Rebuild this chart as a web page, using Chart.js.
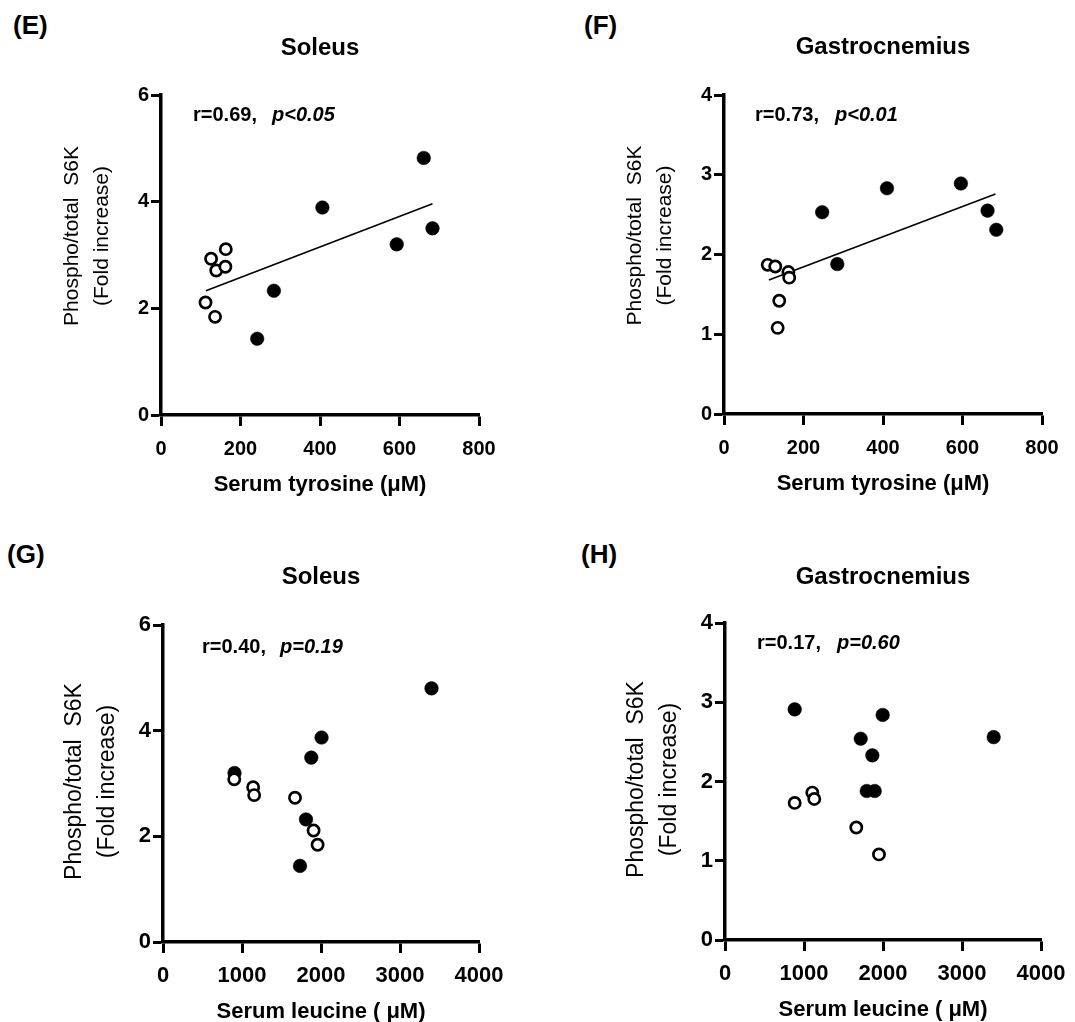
<!DOCTYPE html>
<html>
<head>
<meta charset="utf-8">
<script src="https://cdn.jsdelivr.net/npm/chart.js@4/dist/chart.umd.min.js"></script>
<style>
  html, body { margin:0; padding:0; background:#fff; width:1075px; height:1022px; overflow:hidden; position:relative; }
  .lbl { position:absolute; font:bold 26px "Liberation Sans", Arial, sans-serif; color:#000; line-height:26px; }
  canvas { position:absolute; }
</style>
</head>
<body>
<div class="lbl" style="left:13px;top:12px">(E)</div>
<div class="lbl" style="left:584px;top:12px">(F)</div>
<div class="lbl" style="left:7px;top:541px">(G)</div>
<div class="lbl" style="left:581px;top:541px">(H)</div>
<canvas id="cE"></canvas>
<canvas id="cF"></canvas>
<canvas id="cG"></canvas>
<canvas id="cH"></canvas>
<script>
// ---------------- DATA ----------------
// Panel E: Soleus vs serum tyrosine
const soleusTyrOpenX   = [112, 126, 136, 139, 162, 163];
const soleusTyrOpenY   = [2.11, 2.93, 1.84, 2.71, 2.78, 3.11];
const soleusTyrFilledX = [242, 284, 406, 593, 661, 683];
const soleusTyrFilledY = [1.43, 2.33, 3.89, 3.20, 4.82, 3.50];
const soleusTyrFitX    = [113, 683];
const soleusTyrFitY    = [2.33, 3.96];

// Panel F: Gastrocnemius vs serum tyrosine
const gastroTyrOpenX   = [110, 129, 135, 139, 162, 164];
const gastroTyrOpenY   = [1.87, 1.85, 1.08, 1.42, 1.78, 1.71];
const gastroTyrFilledX = [247, 285, 410, 596, 663, 685];
const gastroTyrFilledY = [2.53, 1.88, 2.83, 2.89, 2.55, 2.31];
const gastroTyrFitX    = [113, 683];
const gastroTyrFitY    = [1.68, 2.76];

// Panel G: Soleus vs serum leucine
const soleusLeuOpenX   = [902, 1141, 1154, 1671, 1906, 1957];
const soleusLeuOpenY   = [3.08, 2.93, 2.78, 2.73, 2.11, 1.84];
const soleusLeuFilledX = [905, 1734, 1810, 1877, 2007, 3399];
const soleusLeuFilledY = [3.20, 1.44, 2.32, 3.49, 3.87, 4.80];

// Panel H: Gastrocnemius vs serum leucine
const gastroLeuOpenX   = [882, 1105, 1130, 1662, 1949];
const gastroLeuOpenY   = [1.73, 1.86, 1.78, 1.42, 1.08];
const gastroLeuFilledX = [882, 1718, 1794, 1865, 1895, 1996, 3401];
const gastroLeuFilledY = [2.91, 2.54, 1.88, 2.33, 1.88, 2.84, 2.56];

// Texts
const panelTitles = ['Soleus', 'Gastrocnemius', 'Soleus', 'Gastrocnemius'];
const xTitles = ['Serum tyrosine (\u03BCM)', 'Serum tyrosine (\u03BCM)', 'Serum leucine ( \u03BCM)', 'Serum leucine ( \u03BCM)'];
const yTitleLines = ['Phospho/total  S6K', '(Fold increase)'];
const statR = ['r=0.69,', 'r=0.73,', 'r=0.40,', 'r=0.17,'];
const statP = ['p<0.05', 'p<0.01', 'p=0.19', 'p=0.60'];

// Axis ranges / ticks
const tyrTicks = [0, 200, 400, 600, 800];
const leuTicks = [0, 1000, 2000, 3000, 4000];
const soleusYTicks = [0, 2, 4, 6];
const gastroYTicks = [0, 1, 2, 3, 4];

// ---------------- LAYOUT (page pixels) ----------------
const FONT = '"Liberation Sans", Arial, sans-serif';
const Y_AXIS_W = 161, TITLE_BOX = 95, X_AXIS_H = 90, CANVAS_W = 512, CANVAS_H = 510;
const layouts = [
  { id:'cE', plot:{left:161, top:95,  right:479,  bottom:415}, titleC:48, tick:20, yFont:21, yT:{l1:-89, l2:-59, dy:-19}, ann:{dx:32, dy:20, p:79} },
  { id:'cF', plot:{left:724, top:95,  right:1042, bottom:414}, titleC:47, tick:20, yFont:21, yT:{l1:-89, l2:-59, dy:-19}, ann:{dx:31, dy:20, p:80} },
  { id:'cG', plot:{left:163, top:625, right:479,  bottom:942}, titleC:577, tick:22, yFont:23, yT:{l1:-88, l2:-55, dy:-2}, ann:{dx:39, dy:22, p:78} },
  { id:'cH', plot:{left:725, top:623, right:1041, bottom:940}, titleC:577, tick:22, yFont:23, yT:{l1:-88, l2:-55, dy:-2}, ann:{dx:32, dy:20, p:80} }
];

function pts(xs, ys) { return xs.map((x, i) => ({ x: x, y: ys[i] })); }

const panels = [
  { open: pts(soleusTyrOpenX, soleusTyrOpenY), filled: pts(soleusTyrFilledX, soleusTyrFilledY), fit: pts(soleusTyrFitX, soleusTyrFitY), xTicks: tyrTicks, yTicks: soleusYTicks },
  { open: pts(gastroTyrOpenX, gastroTyrOpenY), filled: pts(gastroTyrFilledX, gastroTyrFilledY), fit: pts(gastroTyrFitX, gastroTyrFitY), xTicks: tyrTicks, yTicks: gastroYTicks },
  { open: pts(soleusLeuOpenX, soleusLeuOpenY), filled: pts(soleusLeuFilledX, soleusLeuFilledY), fit: null, xTicks: leuTicks, yTicks: soleusYTicks },
  { open: pts(gastroLeuOpenX, gastroLeuOpenY), filled: pts(gastroLeuFilledX, gastroLeuFilledY), fit: null, xTicks: leuTicks, yTicks: gastroYTicks }
];

// Plugin: correlation text + y-axis title (two lines)
const extrasPlugin = {
  id: 'extras',
  afterDraw(chart, args, o) {
    const ctx = chart.ctx, a = chart.chartArea;
    ctx.save();
    ctx.fillStyle = '#000';
    ctx.textBaseline = 'middle';
    ctx.textAlign = 'left';
    ctx.font = 'bold 20px ' + FONT;
    ctx.fillText(o.r, a.left + o.ann.dx, a.top + o.ann.dy);
    ctx.font = 'italic bold 20px ' + FONT;
    ctx.fillText(o.p, a.left + o.ann.dx + o.ann.p, a.top + o.ann.dy);
    // y title
    const cy = (a.top + a.bottom) / 2 + o.yT.dy;
    ctx.font = o.yFont + 'px ' + FONT;
    ctx.textAlign = 'center';
    [o.yT.l1, o.yT.l2].forEach((dx, i) => {
      ctx.save();
      ctx.translate(a.left + dx, cy);
      ctx.rotate(-Math.PI / 2);
      ctx.fillText(o.lines[i], 0, 0);
      ctx.restore();
    });
    ctx.restore();
  }
};

layouts.forEach((L, i) => {
  const P = panels[i];
  const cv = document.getElementById(L.id);
  const cLeft = L.plot.left - Y_AXIS_W;
  const cTop = L.plot.top - TITLE_BOX;
  cv.width = CANVAS_W; cv.height = CANVAS_H;
  cv.style.left = cLeft + 'px'; cv.style.top = cTop + 'px';
  cv.style.width = CANVAS_W + 'px'; cv.style.height = CANVAS_H + 'px';
  const padRight = CANVAS_W - (L.plot.right - cLeft);
  const padBottom = CANVAS_H - (L.plot.bottom - cTop) - X_AXIS_H;
  const titleLH = 24 * 1.2;
  const tPadTop = (L.titleC - cTop) - titleLH / 2;
  const tPadBottom = TITLE_BOX - tPadTop - titleLH;
  const tickLH = L.tick * 1.2;
  const xTickPad = 34 - 11 - tickLH / 2;
  const tickFont = { family: FONT, size: L.tick, weight: 'bold', lineHeight: 1.2 };

  const datasets = [];
  if (P.fit) {
    datasets.push({ data: P.fit, showLine: true, borderColor: '#000', borderWidth: 1.6, pointRadius: 0, order: 3 });
  }
  datasets.push({ data: P.filled, pointRadius: 6.8, pointBackgroundColor: '#000', pointBorderColor: '#000', pointBorderWidth: 0.5, order: 2 });
  datasets.push({ data: P.open, pointRadius: 5.6, pointBackgroundColor: '#fff', pointBorderColor: '#000', pointBorderWidth: 2.7, order: 1 });

  const xT = P.xTicks, yT = P.yTicks;
  new Chart(cv, {
    type: 'scatter',
    data: { datasets: datasets },
    options: {
      responsive: false, animation: false, devicePixelRatio: 1,
      layout: { padding: { left: 0, right: padRight, top: 0, bottom: padBottom } },
      plugins: {
        legend: { display: false }, tooltip: { enabled: false },
        title: { display: true, text: panelTitles[i], fullSize: false, color: '#000',
                 font: { family: FONT, size: 24, weight: 'bold', lineHeight: 1.2 },
                 padding: { top: tPadTop, bottom: tPadBottom } },
        extras: { r: statR[i], p: statP[i], ann: L.ann, yT: L.yT, yFont: L.yFont, lines: yTitleLines }
      },
      scales: {
        x: {
          type: 'linear', min: xT[0], max: xT[xT.length - 1],
          afterBuildTicks: s => { s.ticks = xT.map(v => ({ value: v })); },
          afterFit: s => { s.height = X_AXIS_H; },
          ticks: { color: '#000', font: tickFont, padding: xTickPad, maxRotation: 0, autoSkip: false, callback: v => String(v) },
          grid: { drawOnChartArea: false, drawTicks: true, tickLength: 11, tickWidth: 3, tickColor: '#000' },
          border: { display: true, color: '#000', width: 3.5 },
          title: { display: true, text: xTitles[i], color: '#000', font: { family: FONT, size: 22, weight: 'bold', lineHeight: 1.2 }, padding: { top: 0, bottom: 6.8 } }
        },
        y: {
          type: 'linear', min: yT[0], max: yT[yT.length - 1],
          afterBuildTicks: s => { s.ticks = yT.map(v => ({ value: v })); },
          afterFit: s => { s.width = Y_AXIS_W; },
          ticks: { color: '#000', font: tickFont, padding: 2, autoSkip: false, callback: v => String(v) },
          grid: { drawOnChartArea: false, drawTicks: true, tickLength: 10, tickWidth: 3, tickColor: '#000' },
          border: { display: true, color: '#000', width: 3.5 }
        }
      }
    },
    plugins: [extrasPlugin]
  });
});
</script>
</body>
</html>
